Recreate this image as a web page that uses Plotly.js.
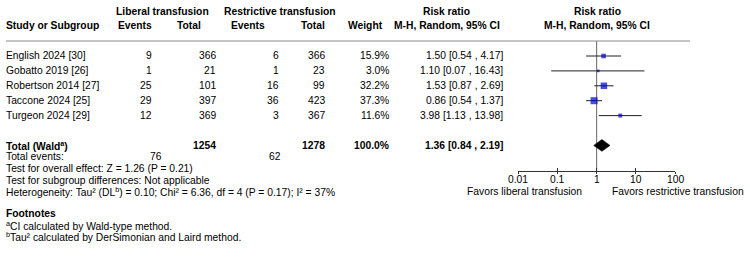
<!DOCTYPE html>
<html>
<head>
<meta charset="utf-8">
<script src="https://cdn.plot.ly/plotly-3.0.1.min.js"></script>
<style>html,body{margin:0;padding:0;background:#fff;}#chart{width:750px;height:275px;}</style>
</head>
<body>
<div id="chart"></div>
<script>
// ---------- DATA ----------
const studies = ['English 2024 [30]', 'Gobatto 2019 [26]', 'Robertson 2014 [27]', 'Taccone 2024 [25]', 'Turgeon 2024 [29]'];
const libEvents = [9, 1, 25, 29, 12];
const libTotal = [366, 21, 101, 397, 369];
const resEvents = [6, 1, 16, 36, 3];
const resTotal = [366, 23, 99, 423, 367];
const weights = [15.9, 3.0, 32.2, 37.3, 11.6];
const rr = [1.50, 1.10, 1.53, 0.86, 3.98];
const ciLow = [0.54, 0.07, 0.87, 0.54, 1.13];
const ciHigh = [4.17, 16.43, 2.69, 1.37, 13.98];

const totalLabel = 'Total (Wald<sup>a</sup>)';
const totalLibN = 1254;
const totalResN = 1278;
const totalWeight = 100.0;
const totalRR = 1.36;
const totalLow = 0.84;
const totalHigh = 2.19;
const totalLibEvents = 76;
const totalResEvents = 62;

const tickVals = [0.01, 0.1, 1, 10, 100];
const tickText = ['0.01', '0.1', '1', '10', '100'];
const favorsLeft = 'Favors liberal transfusion';
const favorsRight = 'Favors restrictive transfusion';

const footerLines = [
  'Test for overall effect: Z = 1.26 (P = 0.21)',
  'Test for subgroup differences: Not applicable',
  'Heterogeneity: Tau\u00b2 (DL<sup>b</sup>) = 0.10; Chi\u00b2 = 6.36, df = 4 (P = 0.17); I\u00b2 = 37%'
];
const footnoteTitle = 'Footnotes';
const footnotes = [
  '<sup>a</sup>CI calculated by Wald-type method.',
  '<sup>b</sup>Tau\u00b2 calculated by DerSimonian and Laird method.'
];

// ---------- LAYOUT HELPERS ----------
const W = 750, H = 275;
const FONT = 'Liberation Sans, Arial, Helvetica, sans-serif';
const FS = 10.3;
const ROW0 = 56, ROWH = 14.9;          // pixel y of first row and row spacing
const PLOT_TOP = 41, PLOT_BOT = 171;    // forest panel vertical extent
const X_LEFT = 518, X_RIGHT = 675.3;    // forest axis extent
const TOTAL_ROW = studies.length + 1;
const px = x => x / W;
const py = y => 1 - y / H;
const rowPx = i => ROW0 + ROWH * i;

const annotations = [];
function txt(text, x, y, anchor, bold) {
  annotations.push({
    text: bold ? '<b>' + text + '</b>' : text,
    x: px(x), y: py(y), xref: 'paper', yref: 'paper',
    xanchor: anchor, yanchor: 'middle', showarrow: false,
    borderpad: 0, borderwidth: 0,
    font: {family: FONT, size: FS, color: '#000'}
  });
}
const fmtCI = (r, l, h) => r.toFixed(2) + ' [' + l.toFixed(2) + ' , ' + h.toFixed(2) + ']';

// headers
txt('Liberal transfusion', 162, 11, 'center', true);
txt('Restrictive transfusion', 280, 11, 'center', true);
txt('Risk ratio', 446.7, 11, 'center', true);
txt('Risk ratio', 597, 11, 'center', true);
txt('Study or Subgroup', 6, 26, 'left', true);
txt('Events', 152, 26, 'right', true);
txt('Total', 201, 26, 'right', true);
txt('Events', 265, 26, 'right', true);
txt('Total', 325, 26, 'right', true);
txt('Weight', 383, 26, 'right', true);
txt('M-H, Random, 95% CI', 446.7, 26, 'center', true);
txt('M-H, Random, 95% CI', 597, 26, 'center', true);

// study rows
studies.forEach((s, i) => {
  const y = rowPx(i);
  txt(s, 6, y, 'left');
  txt(String(libEvents[i]), 152, y, 'right');
  txt(String(libTotal[i]), 216, y, 'right');
  txt(String(resEvents[i]), 279, y, 'right');
  txt(String(resTotal[i]), 325, y, 'right');
  txt(weights[i].toFixed(1) + '%', 389, y, 'right');
  txt(fmtCI(rr[i], ciLow[i], ciHigh[i]), 503, y, 'right');
});

// total row
const yT = rowPx(TOTAL_ROW);
txt(totalLabel, 6, yT, 'left', true);
txt(String(totalLibN), 216, yT, 'right', true);
txt(String(totalResN), 325, yT, 'right', true);
txt(totalWeight.toFixed(1) + '%', 389, yT, 'right', true);
txt(fmtCI(totalRR, totalLow, totalHigh), 503, yT, 'right', true);

txt('Total events:', 6, 156.9, 'left');
txt(String(totalLibEvents), 162, 156.9, 'right');
txt(String(totalResEvents), 281, 156.9, 'right');
footerLines.forEach((l, k) => txt(l, 6, 168.5 + 11.7 * k, 'left'));
txt(footnoteTitle, 6, 213.5, 'left', true);
footnotes.forEach((l, k) => txt(l, 6, 225 + 11.7 * k, 'left'));

// tick labels (drawn on the axis scale) and axis side labels
tickVals.forEach((v, k) => {
  annotations.push({
    text: tickText[k], x: Math.log10(v), y: py(179.5), xref: 'x', yref: 'paper',
    xanchor: 'center', yanchor: 'middle', showarrow: false, borderpad: 0, borderwidth: 0,
    font: {family: FONT, size: FS, color: '#000'}
  });
});
txt(favorsLeft, 582, 191, 'right');
txt(favorsRight, 612, 191, 'left');

// ---------- TRACES ----------
const rowIdx = studies.map((_, i) => i);
const studyTrace = {
  type: 'scatter', mode: 'markers',
  x: rr, y: rowIdx,
  marker: {symbol: 'square', color: '#0000CC', size: weights.map(w => Math.max(2.6, 1.15 * Math.sqrt(w))), line: {width: 0}},
  error_x: {type: 'data', symmetric: false,
            array: rr.map((r, i) => ciHigh[i] - r),
            arrayminus: rr.map((r, i) => r - ciLow[i]),
            width: 0, thickness: 1, color: '#222'},
  cliponaxis: false, hoverinfo: 'skip', xaxis: 'x', yaxis: 'y'
};
const dh = 0.4;
const diamond = {
  type: 'scatter', mode: 'lines',
  x: [totalLow, totalRR, totalHigh, totalRR, totalLow],
  y: [TOTAL_ROW, TOTAL_ROW - dh, TOTAL_ROW, TOTAL_ROW + dh, TOTAL_ROW],
  fill: 'toself', fillcolor: '#000', line: {color: '#000', width: 0.5},
  hoverinfo: 'skip', xaxis: 'x', yaxis: 'y'
};
const dummy = {type: 'scatter', mode: 'markers', x: [1], y: [0], marker: {opacity: 0}, xaxis: 'x2', yaxis: 'y', hoverinfo: 'skip'};

const domainX = [px(X_LEFT), px(X_RIGHT)];
const domainY = [py(PLOT_BOT), py(PLOT_TOP)];
const yTop = (PLOT_TOP - ROW0) / ROWH, yBot = (PLOT_BOT - ROW0) / ROWH;

const axisCommon = {
  type: 'log', range: [Math.log10(tickVals[0]), Math.log10(tickVals[tickVals.length - 1])],
  domain: domainX, tickmode: 'array', tickvals: tickVals, ticktext: tickText,
  showgrid: false, zeroline: false, fixedrange: true, showticklabels: false,
  tickcolor: '#333', tickwidth: 1
};

const layout = {
  width: W, height: H,
  margin: {l: 0, r: 0, t: 0, b: 0},
  paper_bgcolor: '#fff', plot_bgcolor: 'rgba(0,0,0,0)',
  showlegend: false,
  font: {family: FONT, size: FS, color: '#000'},
  xaxis: Object.assign({}, axisCommon, {
    anchor: 'y', showline: true, linecolor: '#333', linewidth: 1,
    ticks: 'outside', ticklen: 2
  }),
  xaxis2: Object.assign({}, axisCommon, {
    anchor: 'y', overlaying: 'x', showline: false,
    ticks: 'inside', ticklen: 3
  }),
  yaxis: {
    domain: domainY, range: [yBot, yTop], visible: false,
    showgrid: false, zeroline: false, fixedrange: true
  },
  shapes: [
    {type: 'line', xref: 'paper', yref: 'paper', x0: px(6), x1: px(690), y0: py(PLOT_TOP), y1: py(PLOT_TOP),
     line: {color: '#8a8a8a', width: 1}},
    {type: 'line', xref: 'x', yref: 'paper', x0: 1, x1: 1, y0: domainY[0], y1: domainY[1],
     line: {color: '#666', width: 1}, layer: 'below'}
  ],
  annotations: annotations
};

Plotly.newPlot('chart', [dummy, studyTrace, diamond], layout, {staticPlot: true, displayModeBar: false});
</script>
</body>
</html>
